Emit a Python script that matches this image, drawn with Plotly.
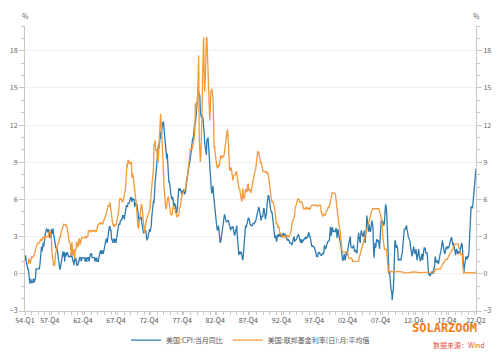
import pandas as pd
import plotly.graph_objects as go

cpi_start = "1954-01-01"
fed_start = "1954-07-01"

# US CPI YoY (%), monthly, Jan 1954 - Mar 2022
cpi_yoy = [
    1.1, 1.5, 1.1, 0.8, 0.8, 0.4, 0.4, 0.0, -0.4, -0.8, -0.4, -0.7,   # 1954
    -0.7, -0.7, -0.7, -0.4, -0.7, -0.7, -0.4, -0.4, 0.4, 0.4, 0.4, 0.4,  # 1955
    0.4, 0.4, 0.4, 0.7, 1.1, 1.8, 2.2, 1.8, 2.2, 2.5, 2.2, 2.9,   # 1956
    2.9, 3.3, 3.6, 3.6, 3.6, 3.3, 3.3, 3.6, 3.2, 2.9, 3.2, 2.9,   # 1957
    3.6, 3.2, 3.6, 3.6, 3.2, 2.8, 2.5, 2.1, 2.1, 2.1, 2.1, 1.8,   # 1958
    1.4, 1.1, 0.4, 0.4, 0.4, 0.7, 0.7, 1.1, 1.4, 1.8, 1.4, 1.8,   # 1959
    1.0, 1.7, 1.4, 1.7, 1.7, 1.7, 1.4, 1.4, 1.4, 1.4, 1.4, 1.4,   # 1960
    1.7, 1.4, 1.4, 1.0, 1.0, 0.7, 1.3, 1.0, 1.3, 0.7, 0.7, 0.7,   # 1961
    0.7, 1.0, 1.0, 1.3, 1.3, 1.3, 1.0, 1.3, 1.3, 1.3, 1.3, 1.3,   # 1962
    1.3, 1.0, 1.3, 1.0, 1.0, 1.3, 1.3, 1.3, 1.0, 1.3, 1.3, 1.6,   # 1963
    1.6, 1.6, 1.3, 1.3, 1.3, 1.3, 1.3, 1.0, 1.3, 1.0, 1.3, 1.0,   # 1964
    1.0, 1.0, 1.3, 1.6, 1.6, 1.9, 1.6, 1.9, 1.6, 1.9, 1.6, 1.9,   # 1965
    1.9, 2.5, 2.5, 2.8, 2.8, 2.5, 2.8, 3.5, 3.5, 3.8, 3.8, 3.5,   # 1966
    3.5, 2.8, 2.8, 2.5, 2.8, 2.8, 2.8, 2.5, 2.8, 2.5, 2.8, 3.1,   # 1967
    3.7, 4.0, 4.0, 4.0, 4.0, 4.3, 4.3, 4.4, 4.4, 4.7, 4.7, 4.7,   # 1968
    4.4, 4.7, 5.3, 5.5, 5.5, 5.5, 5.4, 5.7, 5.7, 5.7, 5.9, 6.2,   # 1969
    6.2, 6.1, 5.8, 6.1, 6.0, 6.0, 6.0, 5.4, 5.7, 5.7, 5.6, 5.6,   # 1970
    5.3, 5.0, 4.7, 4.2, 4.4, 4.6, 4.4, 4.6, 4.1, 3.8, 3.3, 3.3,   # 1971
    3.3, 3.5, 3.5, 3.5, 3.2, 2.7, 2.9, 2.9, 3.2, 3.4, 3.6, 3.4,   # 1972
    3.6, 3.9, 4.6, 5.1, 5.5, 5.9, 5.7, 7.4, 7.4, 7.8, 8.3, 8.7,   # 1973
    9.4, 10.0, 10.4, 10.1, 10.7, 10.9, 11.5, 10.9, 11.9, 12.1, 12.2, 12.3,  # 1974
    11.8, 11.2, 10.3, 10.2, 9.5, 9.3, 9.7, 8.6, 7.9, 7.4, 7.4, 6.9,  # 1975
    6.7, 6.3, 6.1, 6.0, 6.2, 5.9, 5.4, 5.7, 5.5, 5.5, 4.9, 4.9,   # 1976
    5.2, 6.0, 6.4, 6.9, 6.7, 6.9, 6.8, 6.6, 6.6, 6.4, 6.7, 6.7,   # 1977
    6.8, 6.4, 6.6, 6.5, 7.0, 7.4, 7.7, 7.9, 8.3, 8.9, 8.9, 9.0,   # 1978
    9.3, 9.9, 10.1, 10.5, 10.9, 10.9, 11.3, 11.8, 12.2, 12.1, 12.6, 13.3,  # 1979
    13.9, 14.2, 14.8, 14.7, 14.4, 14.4, 13.1, 12.9, 12.6, 12.8, 12.6, 12.5,  # 1980
    11.8, 11.4, 10.5, 10.0, 9.8, 9.6, 10.8, 10.8, 11.0, 10.1, 9.6, 8.9,  # 1981
    8.4, 7.6, 6.8, 6.5, 6.7, 7.1, 6.4, 5.9, 5.0, 5.1, 4.6, 3.8,   # 1982
    3.7, 3.5, 3.6, 3.9, 3.5, 2.6, 2.5, 2.6, 2.9, 2.9, 3.3, 3.8,   # 1983
    4.2, 4.6, 4.8, 4.6, 4.2, 4.2, 4.2, 4.3, 4.3, 4.3, 4.1, 3.9,   # 1984
    3.5, 3.5, 3.7, 3.7, 3.8, 3.8, 3.6, 3.3, 3.1, 3.2, 3.5, 3.8,   # 1985
    3.9, 3.1, 2.2, 1.6, 1.5, 1.8, 1.6, 1.6, 1.8, 1.5, 1.3, 1.1,   # 1986
    1.5, 2.1, 3.0, 3.8, 3.9, 3.7, 3.9, 4.3, 4.4, 4.5, 4.5, 4.4,   # 1987
    4.0, 3.9, 3.9, 3.9, 3.9, 4.0, 4.1, 4.0, 4.2, 4.2, 4.2, 4.4,   # 1988
    4.7, 4.8, 5.0, 5.1, 5.4, 5.2, 5.0, 4.7, 4.3, 4.5, 4.7, 4.6,   # 1989
    5.2, 5.3, 5.2, 4.7, 4.4, 4.7, 4.8, 5.6, 6.2, 6.3, 6.3, 6.1,   # 1990
    5.7, 5.3, 4.9, 4.9, 5.0, 4.7, 4.4, 3.8, 3.4, 2.9, 3.0, 3.1,   # 1991
    2.6, 2.8, 3.2, 3.2, 3.0, 3.1, 3.2, 3.1, 3.0, 3.2, 3.0, 2.9,   # 1992
    3.3, 3.2, 3.1, 3.2, 3.2, 3.0, 2.8, 2.8, 2.7, 2.8, 2.7, 2.7,   # 1993
    2.5, 2.5, 2.5, 2.4, 2.3, 2.5, 2.8, 2.9, 3.0, 2.6, 2.7, 2.7,   # 1994
    2.8, 2.9, 2.9, 3.1, 3.2, 3.0, 2.8, 2.6, 2.5, 2.8, 2.6, 2.5,   # 1995
    2.7, 2.7, 2.8, 2.9, 2.9, 2.8, 3.0, 2.9, 3.0, 3.0, 3.3, 3.3,   # 1996
    3.0, 3.0, 2.8, 2.5, 2.2, 2.3, 2.2, 2.2, 2.2, 2.1, 1.8, 1.7,   # 1997
    1.6, 1.4, 1.4, 1.4, 1.7, 1.7, 1.7, 1.6, 1.5, 1.5, 1.5, 1.6,   # 1998
    1.7, 1.6, 1.7, 2.3, 2.1, 2.0, 2.1, 2.3, 2.6, 2.6, 2.6, 2.7,   # 1999
    2.7, 3.2, 3.8, 3.1, 3.2, 3.7, 3.7, 3.4, 3.5, 3.4, 3.4, 3.4,   # 2000
    3.7, 3.5, 2.9, 3.3, 3.6, 3.2, 2.7, 2.7, 2.6, 2.1, 1.9, 1.6,   # 2001
    1.1, 1.1, 1.5, 1.6, 1.2, 1.1, 1.5, 1.8, 1.5, 2.0, 2.2, 2.4,   # 2002
    2.6, 3.0, 3.0, 2.2, 2.1, 2.1, 2.1, 2.2, 2.3, 2.0, 1.8, 1.9,   # 2003
    1.9, 1.7, 1.7, 2.3, 3.1, 3.3, 3.0, 2.7, 2.5, 3.2, 3.5, 3.3,   # 2004
    3.0, 3.0, 3.1, 3.5, 2.8, 2.5, 3.2, 3.6, 4.7, 4.3, 3.5, 3.4,   # 2005
    4.0, 3.6, 3.4, 3.5, 4.2, 4.3, 4.1, 3.8, 2.1, 1.3, 2.0, 2.5,   # 2006
    2.1, 2.4, 2.8, 2.6, 2.7, 2.7, 2.4, 2.0, 2.8, 3.5, 4.3, 4.1,   # 2007
    4.3, 4.0, 4.0, 3.9, 4.2, 5.0, 5.6, 5.4, 4.9, 3.7, 1.1, 0.1,   # 2008
    0.0, 0.2, -0.4, -0.7, -1.3, -1.4, -2.1, -1.5, -1.3, -0.2, 1.8, 2.7,  # 2009
    2.6, 2.1, 2.3, 2.2, 2.0, 1.1, 1.2, 1.1, 1.1, 1.2, 1.1, 1.5,   # 2010
    1.6, 2.1, 2.7, 3.2, 3.6, 3.6, 3.6, 3.8, 3.9, 3.5, 3.4, 3.0,   # 2011
    2.9, 2.9, 2.7, 2.3, 1.7, 1.7, 1.4, 1.7, 2.0, 2.2, 1.8, 1.7,   # 2012
    1.6, 2.0, 1.5, 1.1, 1.4, 1.8, 2.0, 1.5, 1.2, 1.0, 1.2, 1.5,   # 2013
    1.6, 1.1, 1.5, 2.0, 2.1, 2.1, 2.0, 1.7, 1.7, 1.7, 1.3, 0.8,   # 2014
    -0.1, 0.0, -0.1, -0.2, 0.0, 0.1, 0.2, 0.2, 0.0, 0.2, 0.5, 0.7,  # 2015
    1.4, 1.0, 0.9, 1.1, 1.0, 1.0, 0.8, 1.1, 1.5, 1.6, 1.7, 2.1,   # 2016
    2.5, 2.7, 2.4, 2.2, 1.9, 1.6, 1.7, 1.9, 2.2, 2.0, 2.2, 2.1,   # 2017
    2.1, 2.2, 2.4, 2.5, 2.8, 2.9, 2.9, 2.7, 2.3, 2.5, 2.2, 1.9,   # 2018
    1.6, 1.5, 1.9, 2.0, 1.8, 1.6, 1.8, 1.7, 1.7, 1.8, 2.1, 2.3,   # 2019
    2.5, 2.3, 1.5, 0.3, 0.1, 0.6, 1.0, 1.3, 1.4, 1.2, 1.2, 1.4,   # 2020
    1.4, 1.7, 2.6, 4.2, 5.0, 5.4, 5.4, 5.3, 5.4, 6.2, 6.8, 7.0,   # 2021
    7.5, 7.9, 8.5,                                                # 2022
]

# US effective federal funds rate, monthly average (%), Jul 1954 - Mar 2022
fed_funds = [
    0.80, 1.22, 1.07, 0.85, 0.83, 1.28,   # 1954 H2
    1.39, 1.29, 1.35, 1.43, 1.43, 1.64, 1.68, 1.96, 2.18, 2.24, 2.35, 2.48,   # 1955
    2.45, 2.50, 2.50, 2.62, 2.75, 2.71, 2.75, 2.73, 2.95, 2.96, 2.88, 2.94,   # 1956
    2.84, 3.00, 2.96, 3.00, 3.00, 3.00, 2.99, 3.24, 3.47, 3.50, 3.28, 2.98,   # 1957
    2.72, 1.67, 1.20, 1.26, 0.63, 0.93, 0.68, 1.53, 1.76, 1.80, 2.27, 2.42,   # 1958
    2.48, 2.43, 2.80, 2.96, 2.90, 3.39, 3.47, 3.50, 3.76, 3.98, 4.00, 3.99,   # 1959
    3.99, 3.97, 3.84, 3.92, 3.85, 3.32, 3.23, 2.98, 2.60, 2.47, 2.44, 1.98,   # 1960
    1.45, 2.54, 2.02, 1.49, 1.98, 1.73, 1.17, 2.00, 1.88, 2.26, 2.61, 2.33,   # 1961
    2.15, 2.37, 2.85, 2.78, 2.36, 2.68, 2.71, 2.93, 2.90, 2.90, 2.94, 2.93,   # 1962
    2.92, 3.00, 2.98, 2.90, 3.00, 2.99, 3.02, 3.49, 3.48, 3.50, 3.48, 3.38,   # 1963
    3.48, 3.48, 3.43, 3.47, 3.50, 3.50, 3.42, 3.50, 3.45, 3.36, 3.52, 3.85,   # 1964
    3.90, 3.98, 4.04, 4.09, 4.10, 4.04, 4.09, 4.12, 4.01, 4.08, 4.10, 4.32,   # 1965
    4.42, 4.60, 4.65, 4.67, 4.90, 5.17, 5.30, 5.53, 5.40, 5.53, 5.76, 5.40,   # 1966
    4.94, 5.00, 4.53, 4.05, 3.94, 3.98, 3.79, 3.90, 3.99, 3.88, 4.13, 4.51,   # 1967
    4.61, 4.71, 5.05, 5.76, 6.11, 6.07, 6.02, 6.03, 5.78, 5.91, 5.82, 6.02,   # 1968
    6.30, 6.64, 6.79, 7.41, 8.67, 8.90, 8.61, 9.19, 9.15, 9.00, 8.85, 8.97,   # 1969
    8.98, 8.98, 7.76, 8.10, 7.95, 7.61, 7.21, 6.61, 6.29, 6.20, 5.60, 4.90,   # 1970
    4.14, 3.72, 3.71, 4.16, 4.63, 4.91, 5.31, 5.57, 5.55, 5.20, 4.91, 4.14,   # 1971
    3.50, 3.29, 3.83, 4.17, 4.27, 4.46, 4.55, 4.80, 4.87, 5.04, 5.06, 5.33,   # 1972
    5.94, 6.58, 7.09, 7.12, 7.84, 8.49, 10.40, 10.50, 10.78, 10.01, 10.03, 9.95,  # 1973
    9.65, 8.97, 9.35, 10.51, 11.31, 11.93, 12.92, 12.01, 11.34, 10.06, 9.45, 8.53,  # 1974
    7.13, 6.24, 5.54, 5.49, 5.22, 5.55, 6.10, 6.14, 6.24, 5.82, 5.22, 5.20,   # 1975
    4.87, 4.77, 4.84, 4.82, 5.29, 5.48, 5.31, 5.29, 5.25, 5.02, 4.95, 4.65,   # 1976
    4.61, 4.68, 4.69, 4.73, 5.35, 5.39, 5.42, 5.90, 6.14, 6.47, 6.51, 6.56,   # 1977
    6.70, 6.78, 6.79, 6.89, 7.36, 7.60, 7.81, 8.04, 8.45, 8.96, 9.76, 10.03,  # 1978
    10.07, 10.06, 10.09, 10.01, 10.24, 10.29, 10.47, 10.94, 11.43, 13.77, 13.18, 13.78,  # 1979
    13.82, 14.13, 17.19, 17.61, 10.98, 9.47, 9.03, 9.61, 10.87, 12.81, 15.85, 18.90,  # 1980
    19.08, 15.93, 14.70, 15.72, 18.52, 19.10, 19.04, 17.82, 15.87, 15.08, 13.31, 12.37,  # 1981
    13.22, 14.78, 14.68, 14.94, 14.45, 14.15, 12.59, 10.12, 10.31, 9.71, 9.20, 8.95,  # 1982
    8.68, 8.51, 8.77, 8.80, 8.63, 8.98, 9.37, 9.56, 9.45, 9.48, 9.34, 9.47,   # 1983
    9.56, 9.59, 9.91, 10.29, 10.32, 11.06, 11.23, 11.64, 11.30, 9.99, 9.43, 8.38,  # 1984
    8.35, 8.50, 8.58, 8.27, 7.97, 7.53, 7.88, 7.90, 7.92, 7.99, 8.05, 8.27,   # 1985
    8.14, 7.86, 7.48, 6.99, 6.85, 6.92, 6.56, 6.17, 5.89, 5.85, 6.04, 6.91,   # 1986
    6.43, 6.10, 6.13, 6.37, 6.85, 6.73, 6.58, 6.73, 7.22, 7.29, 6.69, 6.77,   # 1987
    6.83, 6.58, 6.58, 6.87, 7.09, 7.51, 7.75, 8.01, 8.19, 8.30, 8.35, 8.76,   # 1988
    9.12, 9.36, 9.85, 9.84, 9.81, 9.53, 9.24, 8.99, 9.02, 8.84, 8.55, 8.45,   # 1989
    8.23, 8.24, 8.28, 8.26, 8.18, 8.29, 8.15, 8.13, 8.20, 8.11, 7.81, 7.31,   # 1990
    6.91, 6.25, 6.12, 5.91, 5.78, 5.90, 5.82, 5.66, 5.45, 5.21, 4.81, 4.43,   # 1991
    4.03, 4.06, 3.98, 3.73, 3.82, 3.76, 3.25, 3.30, 3.22, 3.10, 3.09, 2.92,   # 1992
    3.02, 3.03, 3.07, 2.96, 3.00, 3.04, 3.06, 3.03, 3.09, 2.99, 3.02, 2.96,   # 1993
    3.05, 3.25, 3.34, 3.56, 4.01, 4.25, 4.26, 4.47, 4.73, 4.76, 5.29, 5.45,   # 1994
    5.53, 5.92, 5.98, 6.05, 6.01, 6.00, 5.85, 5.74, 5.80, 5.76, 5.80, 5.60,   # 1995
    5.56, 5.22, 5.31, 5.22, 5.24, 5.27, 5.40, 5.22, 5.30, 5.24, 5.31, 5.29,   # 1996
    5.25, 5.19, 5.39, 5.51, 5.50, 5.56, 5.52, 5.54, 5.54, 5.50, 5.52, 5.50,   # 1997
    5.56, 5.51, 5.49, 5.45, 5.49, 5.56, 5.54, 5.55, 5.51, 5.07, 4.83, 4.68,   # 1998
    4.63, 4.76, 4.81, 4.74, 4.74, 4.76, 4.99, 5.07, 5.22, 5.20, 5.42, 5.30,   # 1999
    5.45, 5.73, 5.85, 6.02, 6.27, 6.53, 6.54, 6.50, 6.52, 6.51, 6.51, 6.40,   # 2000
    5.98, 5.49, 5.31, 4.80, 4.21, 3.97, 3.77, 3.65, 3.07, 2.49, 2.09, 1.82,   # 2001
    1.73, 1.74, 1.73, 1.75, 1.75, 1.75, 1.73, 1.74, 1.75, 1.75, 1.34, 1.24,   # 2002
    1.24, 1.26, 1.25, 1.26, 1.26, 1.22, 1.01, 1.03, 1.01, 1.01, 1.00, 0.98,   # 2003
    1.00, 1.01, 1.00, 1.00, 1.00, 1.03, 1.26, 1.43, 1.61, 1.76, 1.93, 2.16,   # 2004
    2.28, 2.50, 2.63, 2.79, 3.00, 3.04, 3.26, 3.50, 3.62, 3.78, 4.00, 4.16,   # 2005
    4.29, 4.49, 4.59, 4.79, 4.94, 4.99, 5.24, 5.25, 5.25, 5.25, 5.25, 5.24,   # 2006
    5.25, 5.26, 5.26, 5.25, 5.25, 5.25, 5.26, 5.02, 4.94, 4.76, 4.49, 4.24,   # 2007
    3.94, 2.98, 2.61, 2.28, 1.98, 2.00, 2.01, 2.00, 1.81, 0.97, 0.39, 0.16,   # 2008
    0.15, 0.22, 0.18, 0.15, 0.18, 0.21, 0.16, 0.16, 0.15, 0.12, 0.12, 0.12,   # 2009
    0.11, 0.13, 0.16, 0.20, 0.20, 0.18, 0.18, 0.19, 0.19, 0.19, 0.19, 0.18,   # 2010
    0.17, 0.16, 0.14, 0.10, 0.09, 0.09, 0.07, 0.10, 0.08, 0.07, 0.08, 0.07,   # 2011
    0.08, 0.10, 0.13, 0.14, 0.16, 0.16, 0.16, 0.13, 0.14, 0.16, 0.16, 0.16,   # 2012
    0.14, 0.15, 0.14, 0.15, 0.11, 0.09, 0.09, 0.08, 0.08, 0.09, 0.08, 0.09,   # 2013
    0.07, 0.07, 0.08, 0.09, 0.09, 0.10, 0.09, 0.09, 0.09, 0.09, 0.09, 0.12,   # 2014
    0.11, 0.11, 0.11, 0.12, 0.12, 0.13, 0.13, 0.14, 0.14, 0.12, 0.12, 0.24,   # 2015
    0.34, 0.38, 0.36, 0.37, 0.37, 0.38, 0.39, 0.40, 0.40, 0.40, 0.41, 0.54,   # 2016
    0.65, 0.66, 0.79, 0.90, 0.91, 1.04, 1.15, 1.16, 1.15, 1.15, 1.16, 1.30,   # 2017
    1.41, 1.42, 1.51, 1.69, 1.70, 1.82, 1.91, 1.91, 1.95, 2.19, 2.20, 2.27,   # 2018
    2.40, 2.40, 2.41, 2.42, 2.39, 2.38, 2.40, 2.13, 2.04, 1.83, 1.55, 1.55,   # 2019
    1.55, 1.58, 0.65, 0.05, 0.05, 0.08, 0.09, 0.10, 0.09, 0.09, 0.09, 0.09,   # 2020
    0.09, 0.08, 0.07, 0.07, 0.06, 0.08, 0.10, 0.09, 0.08, 0.08, 0.08, 0.08,   # 2021
    0.08, 0.08, 0.20,                                                          # 2022
]

series_names = ["美国:CPI:当月同比", "美国:联邦基金利率(日):月:平均值"]
series_colors = ["#2f7bb0", "#f39a3a"]

tick_dates = ["1954-01-01", "1957-10-01", "1962-10-01", "1967-10-01", "1972-10-01",
              "1977-10-01", "1982-10-01", "1987-10-01", "1992-10-01", "1997-10-01",
              "2002-10-01", "2007-10-01", "2012-10-01", "2017-10-01", "2022-03-01"]
tick_labels = ["54-Q1", "57-Q4", "62-Q4", "67-Q4", "72-Q4", "77-Q4", "82-Q4", "87-Q4",
               "92-Q4", "97-Q4", "02-Q4", "07-Q4", "12-Q4", "17-Q4", "22-Q2"]
y_ticks = [-3, 0, 3, 6, 9, 12, 15, 18]

cpi_dates = pd.date_range(cpi_start, periods=len(cpi_yoy), freq="MS")
fed_dates = pd.date_range(fed_start, periods=len(fed_funds), freq="MS")

fig = go.Figure()
fig.add_trace(go.Scatter(x=cpi_dates, y=cpi_yoy, mode="lines", name=series_names[0],
                         line=dict(color=series_colors[0], width=1.3)))
fig.add_trace(go.Scatter(x=fed_dates, y=fed_funds, mode="lines", name=series_names[1],
                         line=dict(color=series_colors[1], width=1.3), yaxis="y2"))

axis_col = "#c8c8c8"
yax = dict(range=[-3, 20], tickmode="array", tickvals=y_ticks, showgrid=True,
           gridcolor="#efefef", gridwidth=1, zeroline=False, showline=True,
           linecolor=axis_col, linewidth=1, ticks="outside", ticklen=5, tickcolor=axis_col,
           tickfont=dict(size=7, color="#666"),
           minor=dict(dtick=1, tick0=0, ticks="outside", ticklen=3, tickcolor=axis_col,
                      showgrid=False))

fig.update_layout(
    width=500, height=355,
    margin=dict(l=25, r=24, t=26, b=44, autoexpand=False),
    paper_bgcolor="white", plot_bgcolor="white",
    font=dict(family="Noto Sans CJK SC", size=7, color="#666"),
    showlegend=True,
    legend=dict(orientation="h", x=0.5, xanchor="center", y=-0.102, yanchor="middle",
                font=dict(size=7, color="#555"), itemwidth=30, bgcolor="rgba(0,0,0,0)"),
    xaxis=dict(type="date", range=["1954-01-01", "2022-03-01"], tickmode="array",
               tickvals=tick_dates, ticktext=tick_labels, showgrid=False, zeroline=False,
               showline=True, linecolor=axis_col, linewidth=1, ticks="outside", ticklen=3,
               tickcolor=axis_col, tickfont=dict(size=7, color="#555"),
               minor=dict(dtick="M12", tick0="1954-01-01", ticks="outside", ticklen=3,
                          tickcolor=axis_col, showgrid=False)),
    yaxis=yax,
    yaxis2=dict(yax, overlaying="y", side="right", showgrid=False),
)

# axis unit labels
fig.add_annotation(xref="paper", yref="paper", x=0, y=(311 - 16) / 285, text="%",
                   showarrow=False, font=dict(size=7, color="#666"),
                   xanchor="center", yanchor="middle")
fig.add_annotation(xref="paper", yref="paper", x=1, y=(311 - 16) / 285, text="%",
                   showarrow=False, font=dict(size=7, color="#666"),
                   xanchor="center", yanchor="middle")
# watermark and source
fig.add_annotation(xref="paper", yref="paper", x=(444 - 25) / 451, y=(311 - 328) / 285,
                   text="<b>SOLARZOOM</b>", showarrow=False,
                   font=dict(family="DejaVu Sans Mono", size=12, color="#f47a20"),
                   xanchor="center", yanchor="middle")
fig.add_annotation(xref="paper", yref="paper", x=(487 - 25) / 451, y=(311 - 345) / 285,
                   text="数据来源：Wind", showarrow=False,
                   font=dict(size=7, color="#e0504a"), xanchor="right", yanchor="middle")

fig.write_html("out.html", config={"displayModeBar": False},
               post_script="document.body.style.margin='0';")
